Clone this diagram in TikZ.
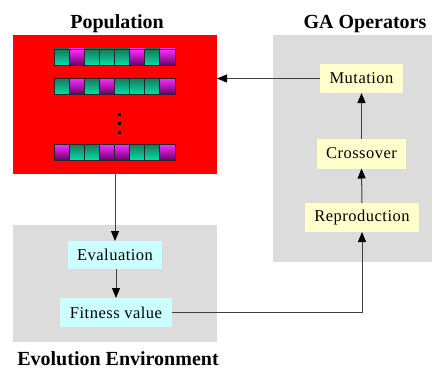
\documentclass[tikz,border=0pt]{standalone}
\usepackage{fontspec}
\setmainfont{Liberation Serif}
\newfontfamily\diagfont[LetterSpace=3]{Liberation Serif}
\usetikzlibrary{arrows.meta}
\definecolor{panelgray}{HTML}{DCDCDC}
\definecolor{opyellow}{HTML}{FFFFCC}
\definecolor{evcyan}{HTML}{CCFFFF}
\definecolor{popred}{HTML}{FF0000}
\definecolor{linegray}{HTML}{404040}
\definecolor{gtop}{HTML}{1E7558}
\definecolor{gbot}{HTML}{00E0A8}
\definecolor{mtop}{HTML}{FF2CFF}
\definecolor{mbot}{HTML}{6A006A}
\tikzset{
  panel/.style={fill=panelgray, draw=none, inner sep=0pt, outer sep=0pt},
  opbox/.style={fill=opyellow, draw=none, inner sep=0pt, outer sep=0pt, font=\diagfont\fontsize{16.5}{18}\selectfont},
  evbox/.style={fill=evcyan, draw=none, inner sep=0pt, outer sep=0pt, font=\diagfont\fontsize{16.5}{18}\selectfont},
  title/.style={anchor=base, inner sep=0pt, font=\rmfamily\fontsize{20}{24}\selectfont\bfseries},
  conn/.style={draw=linegray, line width=1pt, -{Triangle[length=10pt,width=8pt,black]}},
  cellG/.style={top color=gtop, bottom color=gbot, draw=black!85, line width=0.9pt},
  cellM/.style={top color=mtop, bottom color=mbot, draw=black!85, line width=0.9pt},
}
\begin{document}
\begin{tikzpicture}[x=1pt,y=-1pt]
\useasboundingbox (0,0) rectangle (436,369);
% panels
\node[panel, minimum width=159pt, minimum height=227pt] (gapanel) at (352.5,148.5) {};
\node[panel, minimum width=204pt, minimum height=117pt] (evpanel) at (115,283.5) {};
\node[fill=popred, draw=none, inner sep=0pt, outer sep=0pt, minimum width=204pt, minimum height=139pt] (pop) at (115,104.5) {};
% titles
\node[title] (poptitle) at (117,29) {Population};
\node[title] (gatitle) at (365,29) {GA Operators};
\node[title] (evtitle) at (118,365.5) {Evolution Environment};
% chromosomes
\foreach \i in {0,2,3,4,6} \path[cellG] (54+15.125*\i,49) rectangle ++(15.125,16);
\foreach \i in {1,5,7} \path[cellM] (54+15.125*\i,49) rectangle ++(15.125,16);
\foreach \i in {0,2,4,5,6} \path[cellG] (54+15.125*\i,78) rectangle ++(15.125,16);
\foreach \i in {1,3,7} \path[cellM] (54+15.125*\i,78) rectangle ++(15.125,16);
\foreach \i in {1,2,5,6} \path[cellG] (54+15.125*\i,144) rectangle ++(15.125,16);
\foreach \i in {0,3,4,7} \path[cellM] (54+15.125*\i,144) rectangle ++(15.125,16);
\foreach \yy in {113,122,131} \fill[black] (118,\yy) rectangle ++(2.5,2.5);
% operator boxes
\node[opbox, minimum width=83pt, minimum height=29pt] (mut) at (361.5,78.5) {Mutation};
\node[opbox, minimum width=89pt, minimum height=30pt] (cross) at (361.5,153.5) {Crossover};
\node[opbox, minimum width=114pt, minimum height=29pt] (rep) at (362,217.5) {Reproduction};
% evaluation boxes
\node[evbox, minimum width=94pt, minimum height=28pt] (eval) at (115,255) {Evaluation};
\node[evbox, minimum width=112pt, minimum height=29pt] (fit) at (116,312.5) {Fitness value};
% connectors
\draw[conn] (mut.west) -- (mut.west -| pop.east);
\draw[conn] (cross.north) -- (mut.south);
\draw[conn] (rep.north) -- (cross.south);
\draw[conn] (fit.east) -| (rep.south);
\draw[conn] (pop.south) -- (eval.north);
\draw[conn] (eval.south -| fit.north) -- (fit.north);
\end{tikzpicture}
\end{document}
